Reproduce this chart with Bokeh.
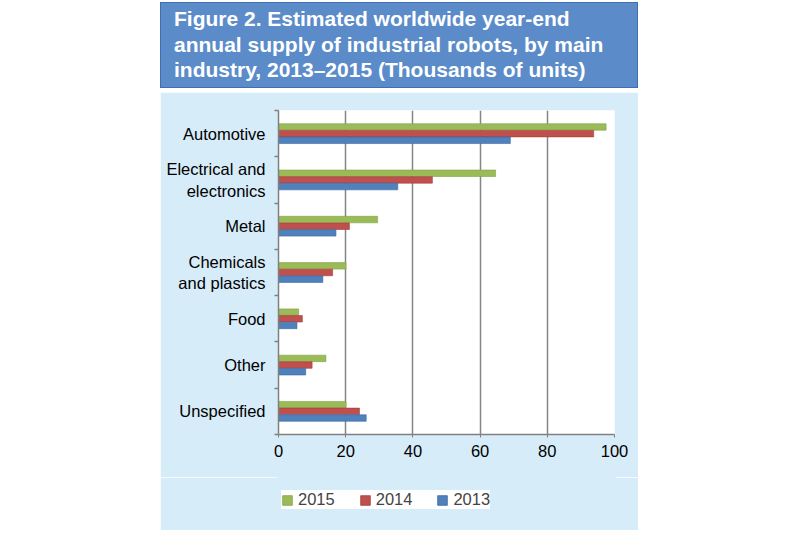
from bokeh.plotting import figure
from bokeh.models import (FactorRange, Range1d, LinearAxis, FixedTicker, Legend,
                          LegendItem, ColumnDataSource, Spacer, Div)
from bokeh.transform import dodge
from bokeh.layouts import row, column
from bokeh.embed import file_html
from bokeh.resources import INLINE

# ---- data ----
categories = ["Automotive", "Electrical and\nelectronics", "Metal",
              "Chemicals\nand plastics", "Food", "Other", "Unspecified"]
values_2015 = [97.5, 64.6, 29.5, 20.1, 6.0, 14.1, 20.1]
values_2014 = [93.8, 45.8, 21.1, 16.1, 7.1, 10.0, 24.1]
values_2013 = [69.0, 35.5, 17.1, 13.2, 5.5, 8.1, 26.1]
years = ["2015", "2014", "2013"]
x_ticks = [0, 20, 40, 60, 80, 100]
title_lines = ["Figure 2. Estimated worldwide year-end",
               "annual supply of industrial robots, by main",
               "industry, 2013\u20132015 (Thousands of units)"]

FONT = "Liberation Sans"
PANEL = "#d7ecf9"
GREEN, RED, BLUE = "#9bbb59", "#c0504d", "#4f81bd"
EDGES = ["#7ea33f", "#a33c3a", "#3a67a3"]
NAN = float("nan")

src = ColumnDataSource(dict(cat=categories, v2015=values_2015,
                            v2014=values_2014, v2013=values_2013))

# ---- title box ----
title = Div(text="<br>".join(title_lines), width=478, height=86, margin=0,
            styles={"background-color": "#5b8cc9", "color": "white",
                    "font-family": "'Liberation Sans', Arial, sans-serif",
                    "font-weight": "bold", "font-size": "21px",
                    "line-height": "25.5px", "padding": "3px 0 0 13px",
                    "box-sizing": "border-box", "border": "1.5px solid #3f6fb0",
                    "white-space": "nowrap", "overflow": "hidden"})

# ---- main chart ----
p = figure(width=478, height=385, y_range=FactorRange(factors=categories[::-1]),
           x_range=Range1d(0, 100), toolbar_location=None, output_backend="svg",
           y_axis_location=None,
           min_border_left=118, min_border_right=24, min_border_top=18,
           min_border_bottom=43,
           background_fill_color="white", border_fill_color=PANEL,
           outline_line_color=None)

yax = LinearAxis(ticker=FixedTicker(ticks=[i + 0.5 for i in range(len(categories))],
                                    minor_ticks=list(range(len(categories) + 1))),
                 major_label_overrides={i + 0.5: c for i, c in enumerate(categories[::-1])})
yax.axis_line_color = "#808080"
yax.axis_line_width = 1.5
yax.major_tick_line_color = None
yax.major_tick_out = 0
yax.minor_tick_line_color = "#808080"
yax.minor_tick_line_width = 1.5
yax.minor_tick_out = 4
yax.minor_tick_in = 0
yax.major_label_standoff = 9
yax.major_label_text_font = FONT
yax.major_label_text_font_size = "16.5px"
yax.major_label_text_color = "black"
yax.major_label_text_line_height = 1.2
p.add_layout(yax, "left")

xax = p.xaxis[0]
xax.ticker = FixedTicker(ticks=x_ticks)
xax.axis_line_color = "#808080"
xax.axis_line_width = 1.5
xax.major_tick_line_color = "#808080"
xax.major_tick_out = 3
xax.major_tick_in = 0
xax.minor_tick_line_color = None
xax.major_label_standoff = 7
xax.major_label_text_font = FONT
xax.major_label_text_font_size = "16.5px"
xax.major_label_text_color = "black"

p.xgrid.ticker = FixedTicker(ticks=x_ticks)
p.xgrid.grid_line_color = "#858585"
p.xgrid.grid_line_width = 1.5
p.ygrid.visible = False

bh = 0.14
p.hbar(y=dodge("cat", 0.144, range=p.y_range), right="v2015", left=0,
       height=bh, source=src, fill_color=GREEN, line_color=EDGES[0], line_width=0.6)
p.hbar(y=dodge("cat", 0.0, range=p.y_range), right="v2014", left=0,
       height=bh, source=src, fill_color=RED, line_color=EDGES[1], line_width=0.6)
p.hbar(y=dodge("cat", -0.144, range=p.y_range), right="v2013", left=0,
       height=bh, source=src, fill_color=BLUE, line_color=EDGES[2], line_width=0.6)

# ---- legend strip (proxy glyphs with NaN data, used only for legend swatches) ----
lf = figure(width=478, height=53, x_range=Range1d(0, 1), y_range=Range1d(0, 1),
            toolbar_location=None, output_backend="svg",
            x_axis_location=None, y_axis_location=None,
            min_border_left=118, min_border_right=24, min_border_top=0,
            min_border_bottom=0,
            background_fill_color=PANEL, border_fill_color=PANEL,
            outline_line_color=PANEL, outline_line_width=3)
lf.grid.visible = False
items = []
for yr, col, edge in zip(years, [GREEN, RED, BLUE], EDGES):
    r = lf.quad(left=[NAN], right=[NAN], top=[NAN], bottom=[NAN], fill_color=col,
                line_color=edge, line_width=0.8)
    items.append(LegendItem(label=yr, renderers=[r]))

legend = Legend(items=items, location=(3, 21), orientation="horizontal",
                glyph_width=12, glyph_height=12, label_standoff=5, spacing=24,
                padding=8, margin=0, label_height=18,
                label_text_font=FONT, label_text_font_size="16.5px",
                background_fill_color="white", background_fill_alpha=1.0,
                border_line_color=None)
lf.add_layout(legend)

layout = row(Spacer(width=160),
             column(Spacer(height=2), title, Spacer(height=4), p, lf))

open("out.html", "w").write(file_html(layout, INLINE))
